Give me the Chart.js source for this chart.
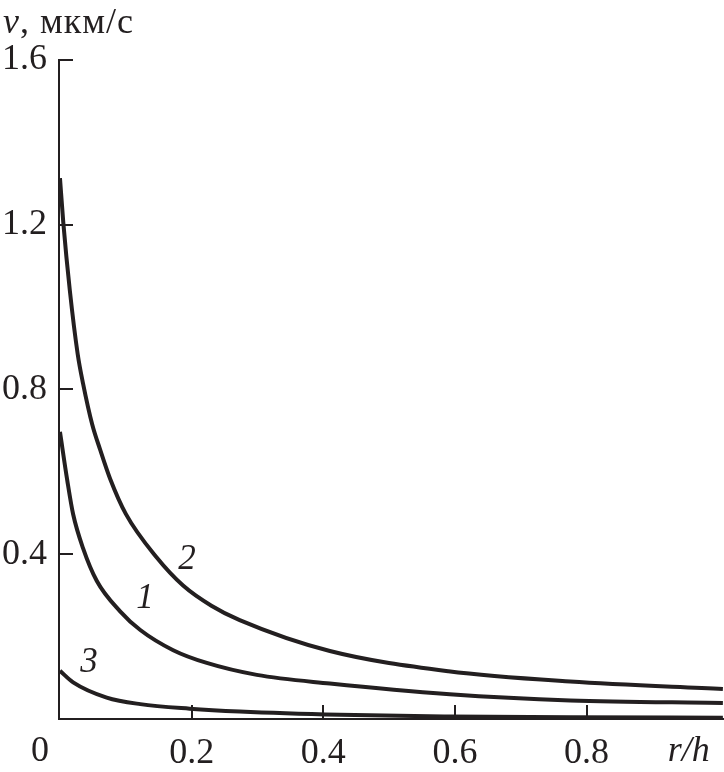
<!DOCTYPE html>
<html>
<head>
<meta charset="utf-8">
<script src="https://cdn.jsdelivr.net/npm/chart.js@4.4.1/dist/chart.umd.min.js"></script>
<style>
  html, body { margin: 0; padding: 0; background: #fff; }
  #wrap { width: 724px; height: 772px; }
</style>
</head>
<body>
<div id="wrap"><canvas id="velChart" width="724" height="772"></canvas></div>
<script>
// Curve 1
const r1 = [0, 0.011, 0.020, 0.035, 0.056, 0.091, 0.122, 0.172, 0.223, 0.299, 0.41, 0.592, 0.775, 1.007];
const v1 = [0.697, 0.580, 0.497, 0.415, 0.335, 0.262, 0.216, 0.167, 0.136, 0.107, 0.086, 0.060, 0.045, 0.039];
// Curve 2
const r2 = [0, 0.005, 0.015, 0.027, 0.035, 0.049, 0.061, 0.076, 0.10, 0.147, 0.187, 0.23, 0.273, 0.41, 0.59, 0.775, 1.007];
const v2 = [1.313, 1.206, 1.040, 0.885, 0.815, 0.715, 0.654, 0.584, 0.498, 0.392, 0.324, 0.275, 0.240, 0.165, 0.116, 0.091, 0.073];
// Curve 3
const r3 = [0, 0.020, 0.071, 0.122, 0.197, 0.273, 0.425, 0.592, 0.775, 1.007];
const v3 = [0.117, 0.089, 0.052, 0.036, 0.025, 0.018, 0.010, 0.006, 0.004, 0.003];

// Tick labels
const xTicks = [0.2, 0.4, 0.6, 0.8];
const yTicks = [0.4, 0.8, 1.2, 1.6];

// Curve numbers, placed at data coordinates
const curveLabels = ['1', '2', '3'];
const curveLabelR = [0.129, 0.193, 0.044];
const curveLabelV = [0.299, 0.393, 0.143];

const ink = '#231f20';
const serif = '"Liberation Serif", "Times New Roman", serif';

function toPoints(rs, vs) {
    return rs.map((r, i) => ({ x: r, y: vs[i] }));
}

function curve(rs, vs) {
    return {
        data: toPoints(rs, vs),
        borderColor: ink,
        borderWidth: 4,
        pointRadius: 0,
        showLine: true,
        fill: false,
        cubicInterpolationMode: 'monotone',
        clip: false
    };
}

// Axes, inward ticks and the text annotations
const annotations = {
    id: 'annotations',
    afterDraw(chart) {
        const ctx = chart.ctx;
        const area = chart.chartArea;
        const xs = chart.scales.x;
        const ys = chart.scales.y;
        ctx.save();
        ctx.strokeStyle = ink;
        ctx.lineWidth = 2;
        ctx.lineCap = 'butt';

        // axis lines
        ctx.beginPath();
        ctx.moveTo(area.left + 1, area.top);
        ctx.lineTo(area.left + 1, area.bottom);
        ctx.moveTo(area.left, area.bottom - 1);
        ctx.lineTo(area.right, area.bottom - 1);
        ctx.stroke();

        // ticks pointing inward
        ctx.beginPath();
        yTicks.forEach(v => {
            const y = Math.round(ys.getPixelForValue(v));
            ctx.moveTo(area.left, y);
            ctx.lineTo(area.left + 15, y);
        });
        xTicks.forEach(v => {
            const x = Math.round(xs.getPixelForValue(v));
            ctx.moveTo(x, area.bottom);
            ctx.lineTo(x, area.bottom - 15);
        });
        ctx.stroke();

        ctx.fillStyle = ink;
        ctx.textBaseline = 'alphabetic';

        // curve numbers
        ctx.font = 'italic 35px ' + serif;
        ctx.textAlign = 'center';
        curveLabels.forEach((t, i) => {
            ctx.fillText(t, xs.getPixelForValue(curveLabelR[i]), ys.getPixelForValue(curveLabelV[i]) + 12);
        });

        // origin and x axis name
        const base = area.bottom + 41;
        ctx.font = '36px ' + serif;
        ctx.fillText('0', area.left - 18, base);
        ctx.font = 'italic 36px ' + serif;
        ctx.fillText('r/h', xs.getPixelForValue(0.955), base);

        // y axis name
        ctx.textAlign = 'left';
        ctx.letterSpacing = '1px';
        ctx.font = 'italic 36px ' + serif;
        ctx.fillText('v', 3, 33);
        const w = ctx.measureText('v').width;
        ctx.font = '36px ' + serif;
        ctx.fillText(', мкм/с', 3 + w, 33);
        ctx.restore();
    }
};

const ctx = document.getElementById('velChart').getContext('2d');
new Chart(ctx, {
    type: 'scatter',
    data: {
        datasets: [curve(r1, v1), curve(r2, v2), curve(r3, v3)]
    },
    options: {
        responsive: false,
        animation: false,
        layout: { padding: { top: 60, left: 0, right: 0, bottom: 0 } },
        plugins: {
            legend: { display: false },
            tooltip: { enabled: false }
        },
        scales: {
            x: {
                type: 'linear',
                min: -0.003,
                max: 1.0087,
                grid: { display: false, drawTicks: false },
                border: { display: false },
                afterBuildTicks: axis => { axis.ticks = xTicks.map(v => ({ value: v })); },
                afterFit: axis => { axis.height = 52; },
                ticks: {
                    color: ink,
                    padding: 12,
                    maxRotation: 0,
                    autoSkip: false,
                    font: { family: serif, size: 36 },
                    callback: v => v.toFixed(1)
                }
            },
            y: {
                type: 'linear',
                min: -0.0025,
                max: 1.6,
                grid: { display: false, drawTicks: false },
                border: { display: false },
                afterBuildTicks: axis => { axis.ticks = yTicks.map(v => ({ value: v })); },
                afterFit: axis => { axis.width = 58; },
                ticks: {
                    color: ink,
                    padding: 11,
                    autoSkip: false,
                    font: { family: serif, size: 36 },
                    callback: v => v.toFixed(1)
                }
            }
        }
    },
    plugins: [annotations]
});
</script>
</body>
</html>
